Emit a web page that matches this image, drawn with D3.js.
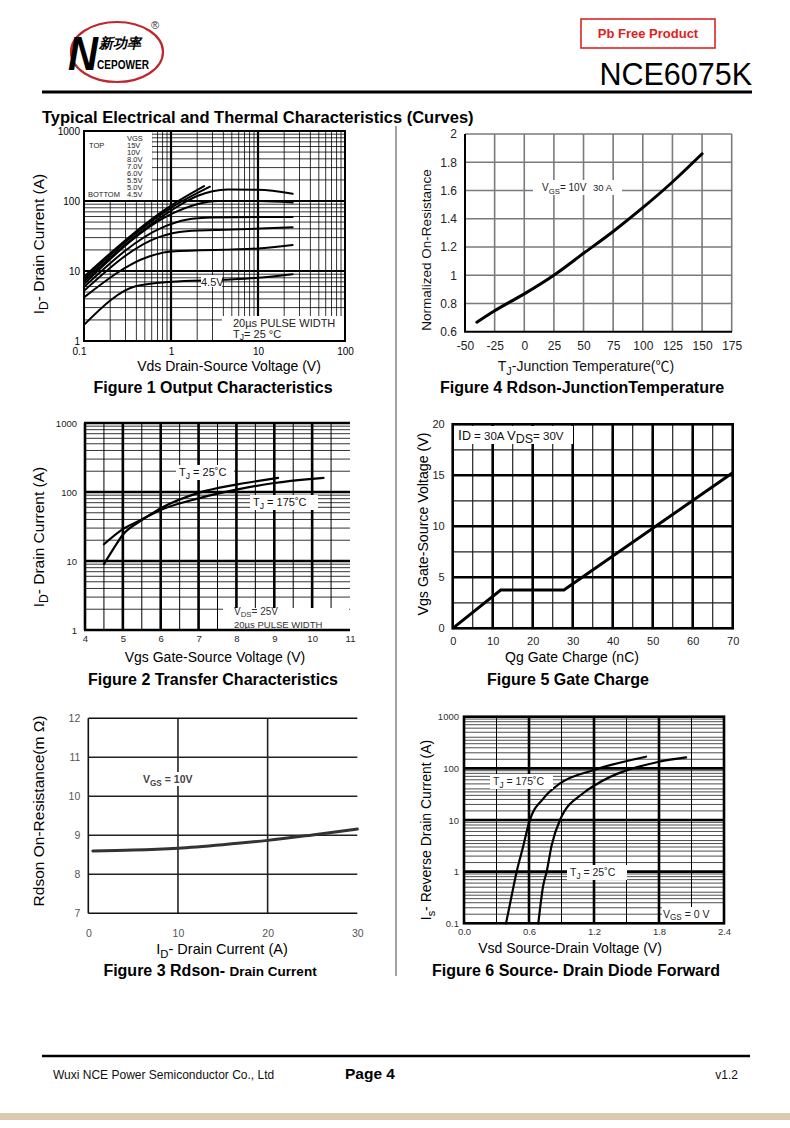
<!DOCTYPE html>
<html>
<head>
<meta charset="utf-8">
<script src="https://cdn.jsdelivr.net/npm/d3@7"></script>
<style>
  body { margin: 0; background: #fff; }
  text { font-family: "Liberation Sans", Arial, sans-serif; }
</style>
</head>
<body>
<svg id="page" width="790" height="1128"></svg>
<script>
// ---- data ----

// Figure 1 output characteristics: [Vds (V), Id (A)] per VGS
const fig1Legend = ["15V", "10V", "8.0V", "7.0V", "6.0V", "5.5V", "5.0V", "4.5V"];
const fig1Curves = [
  [[0.1, 8.3], [1, 86], [2.4, 163]],
  [[0.1, 7.7], [1, 80], [2.8, 160]],
  [[0.1, 7.1], [1, 73], [2, 118], [3, 138], [4.5, 146], [10, 145], [25, 127]],
  [[0.1, 6.5], [1, 65], [2, 90], [3.5, 100], [10, 100], [25, 95]],
  [[0.1, 5.9], [0.8, 42], [1.5, 54], [3, 58], [10, 59], [25, 59]],
  [[0.1, 5.2], [0.7, 30], [1.5, 37], [5, 39], [25, 42]],
  [[0.1, 4.2], [0.55, 16], [1, 19], [10, 21], [25, 23.5]],
  [[0.1, 1.7], [0.4, 6.1], [1, 7], [4, 7.5], [10, 8], [25, 9]]
];
const fig1XTicks = [0.1, 1, 10, 100];
const fig1YTicks = [1, 10, 100, 1000];

// Figure 4 normalized Rdson vs junction temperature
const fig4Temp = [-40, -25, 0, 25, 50, 75, 100, 125, 150];
const fig4Rds = [0.667, 0.748, 0.868, 1.0, 1.155, 1.31, 1.478, 1.66, 1.86];
const fig4XTicks = [-50, -25, 0, 25, 50, 75, 100, 125, 150, 175];
const fig4YTicks = [0.6, 0.8, 1, 1.2, 1.4, 1.6, 1.8, 2];

// Figure 2 transfer characteristics
const fig2Vgs25 = [4.5, 4.75, 5, 5.5, 6, 7, 8, 9.1];
const fig2Id25 = [9, 15, 24, 39, 58, 97, 128, 160];
const fig2Vgs175 = [4.5, 5, 5.5, 6, 7, 8, 9, 10, 10.3];
const fig2Id175 = [17.5, 29, 40, 55, 81, 108, 135, 155, 160];
const fig2XTicks = [4, 5, 6, 7, 8, 9, 10, 11];
const fig2YTicks = [1, 10, 100, 1000];

// Figure 5 gate charge
const fig5Qg = [0, 12, 27.8, 70];
const fig5Vgs = [0, 3.75, 3.75, 15.25];
const fig5XTicks = [0, 10, 20, 30, 40, 50, 60, 70];
const fig5YTicks = [0, 5, 10, 15, 20];

// Figure 3 Rdson vs drain current
const fig3Id = [0.5, 5, 10, 15, 20, 25, 30];
const fig3Rds = [8.6, 8.62, 8.67, 8.76, 8.87, 9.01, 9.16];
const fig3XTicks = [0, 10, 20, 30];
const fig3YTicks = [7, 8, 9, 10, 11, 12];

// Figure 6 body diode forward
const fig6Vsd175 = [0.388, 0.437, 0.486, 0.545, 0.603, 0.732, 0.886, 1.2, 1.68];
const fig6Is175 = [0.1, 0.32, 1, 3, 9.3, 26, 51, 93, 168];
const fig6Vsd25 = [0.686, 0.732, 0.763, 0.81, 0.886, 1.1, 1.2, 1.8, 2.05];
const fig6Is25 = [0.1, 0.55, 1, 3.3, 10, 33, 46, 134, 163];
const fig6XTicks = [0, 0.6, 1.2, 1.8, 2.4];
const fig6YTicks = [0.1, 1, 10, 100, 1000];

const svg = d3.select("#page");

// ---- helpers ----
function txt(g, x, y, s, size, o) {
  o = o || {};
  return g.append("text").attr("x", x).attr("y", y)
    .attr("font-size", size)
    .attr("text-anchor", o.anchor || "start")
    .attr("font-weight", o.bold ? "bold" : null)
    .attr("fill", o.fill || "#000")
    .text(s);
}

// text with alternating normal / subscript parts
function subTxt(g, x, y, parts, size, o) {
  o = o || {};
  const t = g.append("text").attr("x", x).attr("y", y).attr("font-size", size)
    .attr("text-anchor", o.anchor || "start").attr("fill", o.fill || "#000")
    .attr("font-weight", o.bold ? "bold" : null);
  if (o.rotate) t.attr("transform", "rotate(-90," + x + "," + y + ")");
  const sh = o.shift != null ? o.shift : 0.28;
  for (let i = 0; i < parts.length; i++) {
    const s = t.append("tspan").text(parts[i]);
    if (i % 2 == 1) s.attr("font-size", size * 0.78).attr("dy", size * sh);
    else if (i > 0) s.attr("dy", -size * sh);
  }
  return t;
}

function gridV(g, sx, sy, vals, w, c) {
  g.selectAll(null).data(vals).enter().append("line")
    .attr("x1", d => sx(d)).attr("x2", d => sx(d))
    .attr("y1", sy.range()[0]).attr("y2", sy.range()[1])
    .attr("stroke", c).attr("stroke-width", w);
}
function gridH(g, sx, sy, vals, w, c) {
  g.selectAll(null).data(vals).enter().append("line")
    .attr("y1", d => sy(d)).attr("y2", d => sy(d))
    .attr("x1", sx.range()[0]).attr("x2", sx.range()[1])
    .attr("stroke", c).attr("stroke-width", w);
}
function logMinors(lo, hi, ks) {
  const out = [];
  for (let e = Math.round(Math.log10(lo)); e < Math.round(Math.log10(hi)); e++)
    ks.forEach(k => out.push(k * Math.pow(10, e)));
  return out;
}
function whiteBox(g, x0, y0, x1, y1) {
  g.append("rect").attr("x", x0).attr("y", y0).attr("width", x1 - x0).attr("height", y1 - y0).attr("fill", "#fff");
}
function frame(g, sx, sy, w, c) {
  const [x0, x1] = sx.range(), [y0, y1] = sy.range();
  g.append("rect").attr("x", x0).attr("y", y1).attr("width", x1 - x0).attr("height", y0 - y1)
    .attr("fill", "none").attr("stroke", c).attr("stroke-width", w);
}
function curve(g, sx, sy, pts, w, c) {
  g.append("path").datum(pts)
    .attr("d", d3.line().x(d => sx(d[0])).y(d => sy(d[1])).curve(d3.curveMonotoneX))
    .attr("fill", "none").attr("stroke", c).attr("stroke-width", w)
    .attr("stroke-linecap", "round").attr("stroke-linejoin", "round");
}
function zip(a, b) { return a.map((v, i) => [v, b[i]]); }

function axisLabels(g, sx, sy, xt, yt, o) {
  const fx = o.fx || (d => d), fy = o.fy || (d => d);
  const ax = g.append("g").attr("transform", "translate(0," + sy.range()[0] + ")")
    .call(d3.axisBottom(sx).tickValues(xt).tickSize(0).tickPadding(o.px).tickFormat(fx));
  const ay = g.append("g").attr("transform", "translate(" + sx.range()[0] + ",0)")
    .call(d3.axisLeft(sy).tickValues(yt).tickSize(0).tickPadding(o.py).tickFormat(fy));
  [ax, ay].forEach(a => {
    a.select(".domain").remove();
    a.attr("font-family", null).attr("font-size", o.size);
    a.selectAll("text").attr("fill", o.fill || "#000");
  });
  return ax;
}

// ---- header ----
const head = svg.append("g");
head.append("ellipse").attr("cx", 117).attr("cy", 52).attr("rx", 46).attr("ry", 30)
  .attr("fill", "none").attr("stroke", "#c0272d").attr("stroke-width", 2.2);
head.append("text").attr("x", 68).attr("y", 70).attr("font-size", 48).attr("font-weight", "bold")
  .attr("font-style", "italic").attr("font-family", "DejaVu Serif")
  .attr("textLength", 30).attr("lengthAdjust", "spacingAndGlyphs").text("N");
head.append("text").attr("x", 99).attr("y", 48).attr("font-size", 14).attr("font-weight", "bold")
  .attr("font-style", "italic").attr("font-family", "Noto Sans CJK SC").text("新功率");
head.append("text").attr("x", 97).attr("y", 69).attr("font-size", 12).attr("font-weight", "bold")
  .attr("font-family", "Liberation Serif").attr("textLength", 52).attr("lengthAdjust", "spacingAndGlyphs").text("CEPOWER");
txt(head, 151, 29, "®", 11, { fill: "#333" });

head.append("rect").attr("x", 581).attr("y", 19).attr("width", 134).attr("height", 29)
  .attr("fill", "none").attr("stroke", "#e02424").attr("stroke-width", 1.6);
txt(head, 648, 38, "Pb Free Product", 13, { anchor: "middle", bold: true, fill: "#e01e1e" });
txt(head, 752, 85, "NCE6075K", 30.5, { anchor: "end" });
head.append("line").attr("x1", 42).attr("x2", 752).attr("y1", 92).attr("y2", 92)
  .attr("stroke", "#000").attr("stroke-width", 3);
txt(head, 42, 123, "Typical Electrical and Thermal Characteristics (Curves)", 16.5, { bold: true });
head.append("line").attr("x1", 396).attr("x2", 396).attr("y1", 126).attr("y2", 976)
  .attr("stroke", "#444").attr("stroke-width", 1);

// ---- Figure 1 ----
{
  const g = svg.append("g");
  const x = d3.scaleLog().domain([0.1, 100]).range([84, 345]);
  const y = d3.scaleLog().domain([1, 1000]).range([341, 131]);
  gridV(g, x, y, logMinors(0.1, 100, [2, 3, 4, 5, 6, 7, 8, 9]), 0.8, "#000");
  gridH(g, x, y, logMinors(1, 1000, [2, 3, 4, 5, 6, 7, 8, 9]), 0.8, "#000");
  gridV(g, x, y, [1, 10], 2.2, "#000");
  gridH(g, x, y, [10, 100], 2.2, "#000");
  whiteBox(g, 85, 132, 152, 200);
  whiteBox(g, 222, 316, 344, 340);
  frame(g, x, y, 2, "#000");
  fig1Curves.forEach(c => curve(g, x, y, c, 2, "#000"));
  // legend
  const lx = 127, ly = 140.5, ls = 7.07;
  txt(g, lx, ly, "VGS", 7.5, { fill: "#222" });
  fig1Legend.forEach((s, i) => txt(g, lx, ly + (i + 1) * ls, s, 7.5, { fill: "#222" }));
  txt(g, 89, ly + ls, "TOP", 7.5, { fill: "#222" });
  txt(g, 88, ly + 8 * ls, "BOTTOM", 7.5, { fill: "#222" });
  whiteBox(g, 201, 275, 222, 287);
  txt(g, 201, 285.5, "4.5V", 11, { fill: "#222" });
  txt(g, 233, 326.5, "20µs PULSE WIDTH", 11, { fill: "#222" });
  subTxt(g, 233, 337.5, ["T", "J", "= 25 °C"], 11, { fill: "#222", shift: 0.2 });
  const ax = axisLabels(g, x, y, fig1XTicks, fig1YTicks, { px: 7, py: 4, size: 10 });
  ax.selectAll("text").filter(d => d == 0.1).attr("dx", -5);
  txt(g, 229, 371, "Vds Drain-Source Voltage (V)", 14, { anchor: "middle" });
  subTxt(g, 44, 244, ["I", "D", "- Drain Current (A)"], 15.5, { anchor: "middle", rotate: true });
  txt(g, 213, 393, "Figure 1 Output Characteristics", 16, { anchor: "middle", bold: true });
}

// ---- Figure 4 ----
{
  const g = svg.append("g");
  const x = d3.scaleLinear().domain([-50, 175]).range([465, 731.7]);
  const y = d3.scaleLinear().domain([0.6, 2]).range([331.7, 134]);
  gridV(g, x, y, fig4XTicks.slice(1), 1.6, "#7a7a7a");
  gridH(g, x, y, fig4YTicks.slice(1), 1.6, "#7a7a7a");
  whiteBox(g, 533, 180, 622, 195);
  g.append("line").attr("x1", 465).attr("x2", 465).attr("y1", 134).attr("y2", 332).attr("stroke", "#000").attr("stroke-width", 2);
  g.append("line").attr("x1", 464).attr("x2", 732).attr("y1", 331.7).attr("y2", 331.7).attr("stroke", "#000").attr("stroke-width", 2);
  curve(g, x, y, zip(fig4Temp, fig4Rds), 3, "#000");
  subTxt(g, 542, 191, ["V", "GS", "= 10V"], 10, { fill: "#222" });
  txt(g, 593, 191, "30 A", 9.5, { fill: "#222" });
  axisLabels(g, x, y, fig4XTicks, fig4YTicks, { px: 10, py: 8, size: 12, fill: "#222" });
  const xt = subTxt(g, 586, 371, ["T", "J", "-Junction Temperature("], 14, { anchor: "middle", fill: "#111" });
  xt.append("tspan").text("℃").attr("font-family", "Noto Sans CJK SC");
  xt.append("tspan").text(")");
  txt(g, 431, 250, "Normalized On-Resistance", 13.5, { anchor: "middle", fill: "#111" })
    .attr("transform", "rotate(-90,431,250)");
  txt(g, 582, 393, "Figure 4 Rdson-JunctionTemperature", 16, { anchor: "middle", bold: true });
}

// ---- Figure 2 ----
{
  const g = svg.append("g");
  const x = d3.scaleLinear().domain([4, 11]).range([85, 350]);
  const y = d3.scaleLog().domain([1, 1000]).range([630, 423]);
  gridV(g, x, y, [4.5, 5.5, 6.5, 7.5, 8.5, 9.5, 10.5], 1, "#000");
  gridH(g, x, y, logMinors(1, 1000, [2, 3, 4, 5, 6, 7, 8, 9]), 0.8, "#000");
  gridV(g, x, y, [5, 6, 7, 8, 9, 10], 2.6, "#000");
  gridH(g, x, y, [10, 100], 2.6, "#000");
  whiteBox(g, 223, 608, 349, 629);
  g.append("line").attr("x1", 85).attr("x2", 85).attr("y1", 423).attr("y2", 630).attr("stroke", "#000").attr("stroke-width", 2.6);
  g.append("line").attr("x1", 84).attr("x2", 350).attr("y1", 630).attr("y2", 630).attr("stroke", "#000").attr("stroke-width", 2.6);
  g.append("line").attr("x1", 84).attr("x2", 350).attr("y1", 423).attr("y2", 423).attr("stroke", "#000").attr("stroke-width", 2.6);
  curve(g, x, y, zip(fig2Vgs25, fig2Id25), 2.2, "#000");
  curve(g, x, y, zip(fig2Vgs175, fig2Id175), 2.2, "#000");
  whiteBox(g, 176, 465, 234, 480);
  subTxt(g, 179, 476, ["T", "J", " = 25˚C"], 11, { fill: "#111" });
  whiteBox(g, 250, 495, 318, 510);
  subTxt(g, 253, 506, ["T", "J", " = 175˚C"], 11, { fill: "#111" });
  subTxt(g, 234, 615, ["V", "DS", "= 25V"], 10, { fill: "#333", shift: 0.15 });
  txt(g, 234, 628, "20µs PULSE WIDTH", 9.5, { fill: "#333" });
  axisLabels(g, x, y, fig2XTicks, fig2YTicks, { px: 5, py: 8, size: 9.5, fill: "#222" });
  txt(g, 215, 662, "Vgs Gate-Source Voltage (V)", 14, { anchor: "middle" });
  subTxt(g, 44, 537, ["I", "D", "- Drain Current (A)"], 15.5, { anchor: "middle", rotate: true });
  txt(g, 213, 685, "Figure 2 Transfer Characteristics", 16, { anchor: "middle", bold: true });
}

// ---- Figure 5 ----
{
  const g = svg.append("g");
  const x = d3.scaleLinear().domain([0, 70]).range([452.7, 732.7]);
  const y = d3.scaleLinear().domain([0, 20]).range([628.3, 424.3]);
  gridV(g, x, y, [5, 15, 25, 35, 45, 55, 65], 1.2, "#222");
  gridH(g, x, y, [2.5, 7.5, 12.5, 17.5], 1.2, "#222");
  gridV(g, x, y, [10, 20, 30, 40, 50, 60], 2.6, "#000");
  gridH(g, x, y, [5, 10, 15], 2.6, "#000");
  whiteBox(g, 455, 426, 573, 444);
  frame(g, x, y, 2.6, "#000");
  g.append("path").datum(zip(fig5Qg, fig5Vgs))
    .attr("d", d3.line().x(d => x(d[0])).y(d => y(d[1])))
    .attr("fill", "none").attr("stroke", "#000").attr("stroke-width", 3);
  const lab = g.append("text").attr("x", 458).attr("y", 440).attr("font-size", 14).attr("fill", "#111");
  lab.append("tspan").text("I");
  lab.append("tspan").text("D").attr("font-size", 12.5);
  lab.append("tspan").text(" = 30A  ").attr("font-size", 11.5);
  lab.append("tspan").text("V").attr("font-size", 13);
  lab.append("tspan").text("DS").attr("font-size", 12.5).attr("dy", 3);
  lab.append("tspan").text("= 30V").attr("font-size", 11.5).attr("dy", -3);
  axisLabels(g, x, y, fig5XTicks, fig5YTicks, { px: 9, py: 8, size: 11, fill: "#222" });
  txt(g, 572, 662, "Qg Gate Charge (nC)", 14, { anchor: "middle" });
  txt(g, 428, 524, "Vgs Gate-Source Voltage (V)", 14.2, { anchor: "middle" })
    .attr("transform", "rotate(-90,428,524)");
  txt(g, 568, 685, "Figure 5 Gate Charge", 16, { anchor: "middle", bold: true });
}

// ---- Figure 3 ----
{
  const g = svg.append("g");
  const x = d3.scaleLinear().domain([0, 30]).range([88.3, 357.3]);
  const y = d3.scaleLinear().domain([7, 12]).range([913.3, 718.3]);
  gridV(g, x, y, [10, 20], 1.6, "#222");
  gridH(g, x, y, [8, 9, 10, 11], 1.6, "#222");
  g.append("line").attr("x1", 88.3).attr("x2", 88.3).attr("y1", 718.3).attr("y2", 913.3).attr("stroke", "#111").attr("stroke-width", 1.6);
  g.append("line").attr("x1", 88.3).attr("x2", 357.3).attr("y1", 913.3).attr("y2", 913.3).attr("stroke", "#111").attr("stroke-width", 1.6);
  g.append("line").attr("x1", 88.3).attr("x2", 357.3).attr("y1", 718.3).attr("y2", 718.3).attr("stroke", "#111").attr("stroke-width", 1.6);
  curve(g, x, y, zip(fig3Id, fig3Rds), 3, "#333");
  whiteBox(g, 142, 772, 204, 786);
  subTxt(g, 143, 783, ["V", "GS", " = 10V"], 10.5, { bold: true, fill: "#444" });
  axisLabels(g, x, y, fig3XTicks, fig3YTicks, { px: 16, py: 8, size: 10.5, fill: "#555" });
  subTxt(g, 222, 954, ["I", "D", "- Drain Current (A)"], 14.5, { anchor: "middle" });
  txt(g, 44, 811, "Rdson On-Resistance(m Ω)", 15.5, { anchor: "middle" })
    .attr("transform", "rotate(-90,44,811)");
  const cap = g.append("text").attr("x", 210).attr("y", 976).attr("text-anchor", "middle").attr("font-weight", "bold");
  cap.append("tspan").text("Figure 3 Rdson- ").attr("font-size", 16);
  cap.append("tspan").text("Drain Current").attr("font-size", 13.5);
}

// ---- Figure 6 ----
{
  const g = svg.append("g");
  const x = d3.scaleLinear().domain([0, 2.4]).range([464, 724]);
  const y = d3.scaleLog().domain([0.1, 1000]).range([923.3, 716.7]);
  gridV(g, x, y, [0.3, 0.9, 1.5, 2.1], 1, "#000");
  gridH(g, x, y, logMinors(0.1, 1000, [1.5, 2, 2.5, 3, 3.5, 4, 5, 6, 7, 8, 9]), 0.7, "#000");
  gridV(g, x, y, [0.6, 1.2, 1.8], 2.6, "#000");
  gridH(g, x, y, [1, 10, 100], 2.6, "#000");
  whiteBox(g, 662, 907, 723, 922);
  frame(g, x, y, 2.6, "#000");
  curve(g, x, y, zip(fig6Vsd175, fig6Is175), 2.2, "#000");
  curve(g, x, y, zip(fig6Vsd25, fig6Is25), 2.2, "#000");
  whiteBox(g, 490, 774, 553, 789);
  subTxt(g, 493, 785, ["T", "J", " = 175˚C"], 10.5, { fill: "#222" });
  whiteBox(g, 567, 865, 627, 880);
  subTxt(g, 570, 876, ["T", "J", " = 25˚C"], 10.5, { fill: "#222" });
  subTxt(g, 663, 918, ["V", "GS", " = 0 V"], 10.5, { fill: "#222", shift: 0.2 });
  axisLabels(g, x, y, fig6XTicks, fig6YTicks, { px: 5, py: 5, size: 9.5, fill: "#333", fx: d3.format(".1f") });
  txt(g, 570, 953, "Vsd Source-Drain Voltage (V)", 14, { anchor: "middle" });
  subTxt(g, 431, 830, ["I", "s", "- Reverse Drain Current (A)"], 14, { anchor: "middle", rotate: true });
  txt(g, 576, 976, "Figure 6 Source- Drain Diode Forward", 16, { anchor: "middle", bold: true });
}

// ---- footer ----
const foot = svg.append("g");
foot.append("line").attr("x1", 42).attr("x2", 750).attr("y1", 1056).attr("y2", 1056)
  .attr("stroke", "#000").attr("stroke-width", 2.6);
txt(foot, 53, 1079, "Wuxi NCE Power Semiconductor Co., Ltd", 12, { fill: "#111" })
  .attr("font-family", "Liberation Sans Narrow, Liberation Sans, sans-serif");
txt(foot, 345, 1079, "Page 4", 15.5, { bold: true });
txt(foot, 738, 1079, "v1.2", 12, { anchor: "end", fill: "#111" });
foot.append("rect").attr("x", 0).attr("y", 1113).attr("width", 790).attr("height", 7).attr("fill", "#dcc9b1");
</script>
</body>
</html>
